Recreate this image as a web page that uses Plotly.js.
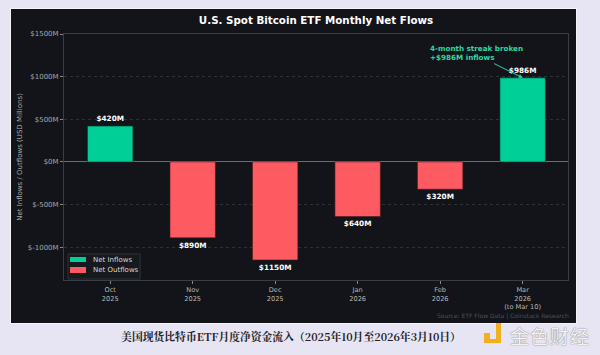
<!DOCTYPE html>
<html>
<head>
<meta charset="utf-8">
<script src="https://cdn.plot.ly/plotly-3.0.1.min.js"></script>
<style>
  html, body { margin:0; padding:0; width:600px; height:355px; background:#e7e5f4; overflow:hidden; }
  #panel { position:absolute; left:10px; top:8px; width:565px; height:314px; border:1px solid #f4f4f8; background:#121419; }
  #chart { position:absolute; left:0; top:0; width:565px; height:314px; }
  #caption { position:absolute; left:0; width:582px; top:329px; text-align:center; font-family:"Noto Serif CJK SC", serif, "Noto Sans CJK SC"; font-size:10.8px; color:#222; font-weight:bold; }
  #wm { position:absolute; left:510px; top:322px; font-family:"Noto Sans CJK SC"; font-size:19px; color:#f2f2f2; text-shadow:0 0 1px #888, 0 0 1px #888; letter-spacing:1px; }
  .lg1 { position:absolute; left:484px; top:333px; width:6px; height:6px; background:#f2b01e; }
  .lg2 { position:absolute; left:496px; top:323px; width:5px; height:20px; background:#f2b01e; }
  .lg3 { position:absolute; left:484px; top:339px; width:17px; height:4px; background:#f2b01e; }
</style>
</head>
<body>
<div id="panel"><div id="chart"></div></div>
<div id="caption">美国现货比特币ETF月度净资金流入（2025年10月至2026年3月10日）</div>
<div class="lg1"></div><div class="lg2"></div><div class="lg3"></div>
<div id="wm">金色财经</div>
<script>
const months = ["Oct<br>2025", "Nov<br>2025", "Dec<br>2025", "Jan<br>2026", "Feb<br>2026", "Mar<br>2026<br>(to Mar 10)"];
const netFlows = [420, -890, -1150, -640, -320, 986];
const flowLabels = ["$420M", "$890M", "$1150M", "$640M", "$320M", "$986M"];
const yTickVals = [-1000, -500, 0, 500, 1000, 1500];
const yTickText = ["$-1000M", "$-500M", "$0M", "$500M", "$1000M", "$1500M"];
const legendNames = ["Net Inflows", "Net Outflows"];

const green = "#00cf98";
const red = "#fd5b61";

const inflowY = netFlows.map(v => v >= 0 ? v : null);
const outflowY = netFlows.map(v => v < 0 ? v : null);
const inflowT = netFlows.map((v, i) => v >= 0 ? flowLabels[i] : "");
const outflowT = netFlows.map((v, i) => v < 0 ? flowLabels[i] : "");

const traces = [
  { type:"bar", name:legendNames[0], x:months, y:inflowY, text:inflowT, textposition:"outside",
    marker:{color:green, line:{color:"#0b3b2f", width:0.6}}, width:0.55, cliponaxis:false,
    textfont:{color:"#ffffff", size:7.3, family:"DejaVu Sans", weight:"bold"} },
  { type:"bar", name:legendNames[1], x:months, y:outflowY, text:outflowT, textposition:"outside",
    marker:{color:red, line:{color:"#4a1c1e", width:0.6}}, width:0.55, cliponaxis:false,
    textfont:{color:"#ffffff", size:7.3, family:"DejaVu Sans", weight:"bold"} }
];

// compact legend drawn in paper coordinates of the plot area
const legendShapes = [
  { type:"rect", xref:"paper", yref:"paper", x0:0.0079, x1:0.151, y0:0.004, y1:0.106,
    fillcolor:"#16191e", line:{color:"#30333a", width:1}, layer:"above" },
  { type:"rect", xref:"paper", yref:"paper", x0:0.0119, x1:0.0437, y0:0.0732, y1:0.0935,
    fillcolor:green, line:{width:0}, layer:"above" },
  { type:"rect", xref:"paper", yref:"paper", x0:0.0119, x1:0.0437, y0:0.0285, y1:0.0528,
    fillcolor:red, line:{width:0}, layer:"above" }
];
const legendAnn = [
  { xref:"paper", yref:"paper", x:0.0536, y:0.0833, xanchor:"left", yanchor:"middle", showarrow:false,
    text:legendNames[0], font:{size:7, color:"#d8d8d8"} },
  { xref:"paper", yref:"paper", x:0.0536, y:0.0407, xanchor:"left", yanchor:"middle", showarrow:false,
    text:legendNames[1], font:{size:7, color:"#d8d8d8"} }
];

const layout = {
  width:565, height:314,
  paper_bgcolor:"#121419", plot_bgcolor:"#121419",
  margin:{l:53, r:8, t:25, b:43},
  barmode:"overlay",
  showlegend:false,
  font:{family:"DejaVu Sans", color:"#b8b8b8", size:7},
  title:{text:"<b>U.S. Spot Bitcoin ETF Monthly Net Flows</b>", font:{size:10.3, color:"#ffffff", family:"DejaVu Sans"},
         xref:"paper", x:0.5, xanchor:"center", yref:"container", y:0.965, yanchor:"middle"},
  xaxis:{type:"category", range:[-0.56, 5.55], showgrid:false, ticks:"outside", ticklen:3, tickcolor:"#888",
         tickfont:{size:6.6, color:"#b8b8b8"}, showline:true, mirror:true, linecolor:"#3a3d45", linewidth:1, zeroline:false},
  yaxis:{range:[-1385, 1500], tickvals:yTickVals, ticktext:yTickText, ticks:"outside", ticklen:3, tickcolor:"#888",
         tickfont:{size:7, color:"#a8a8a8"}, showgrid:true, gridcolor:"#2e3138", griddash:"dot", gridwidth:1,
         zeroline:true, zerolinecolor:"#6a6d74", zerolinewidth:1,
         showline:true, mirror:true, linecolor:"#3a3d45", linewidth:1,
         title:{text:"Net Inflows / Outflows (USD Millions)", font:{size:7, color:"#a8a8a8"}, standoff:4}},
  shapes:legendShapes,
  annotations:[
    { xref:"x", yref:"y", x:3.856, y:1277, xanchor:"left", yanchor:"middle", align:"left", showarrow:false,
      text:"<b>4-month streak broken<br>+$986M inflows</b>", font:{size:7.2, color:"#2fd79f"} },
    { xref:"x", yref:"y", x:5, y:986, text:"", showarrow:true, ax:-30, ay:-15, arrowhead:2, arrowsize:0.8,
      arrowwidth:1, arrowcolor:"#2fd79f", standoff:0 },
    { xref:"paper", yref:"paper", x:1.005, y:-0.146, xanchor:"right", yanchor:"middle", showarrow:false,
      text:"Source: ETF Flow Data | Coinstack Research", font:{size:6, color:"#4e5158"} }
  ].concat(legendAnn)
};

Plotly.newPlot("chart", traces, layout, {displayModeBar:false, staticPlot:true});
</script>
</body>
</html>
